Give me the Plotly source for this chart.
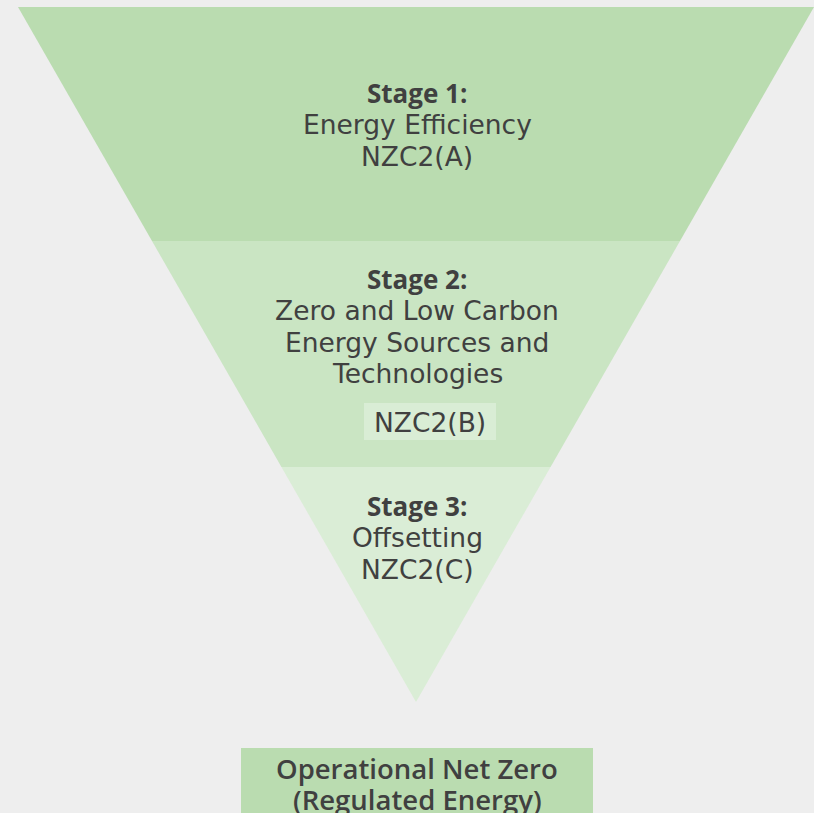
import plotly.graph_objects as go

# ---- data ----
stage_titles = ["Stage 1:", "Stage 2:", "Stage 3:"]
stage_lines = [
    ["Energy Efficiency", "NZC2(A)"],
    ["Zero and Low Carbon", "Energy Sources and", "Technologies"],
    ["Offsetting", "NZC2(C)"],
]
stage2_code = "NZC2(B)"
result_lines = ["Operational Net Zero", "(Regulated Energy)"]

# ---- layout geometry (pixel-like coordinates) ----
W, H = 814, 813
top_y, apex_y = 7, 702
cx = 416
half_top = 398
band_edges = [7, 241, 467, 702]
band_colors = ["#badcb0", "#cae5c3", "#daedd6"]
bg = "#eeeeee"
txt = "#404040"
body_font = "DejaVu Sans"
title_font = "Open Sans"
fs = 26.5
line_gap = 31.5

def halfw(y):
    return half_top * (apex_y - y) / (apex_y - top_y)

fig = go.Figure()
for i in range(3):
    y0, y1 = band_edges[i], band_edges[i + 1]
    xs = [cx - halfw(y0), cx + halfw(y0), cx + halfw(y1), cx - halfw(y1), cx - halfw(y0)]
    ys = [y0, y0, y1, y1, y0]
    fig.add_trace(go.Scatter(x=xs, y=ys, fill="toself", fillcolor=band_colors[i],
                             mode="lines", line=dict(width=0), hoverinfo="skip",
                             showlegend=False))

title_y = [93, 279, 506]
for i in range(3):
    fig.add_annotation(x=cx + 1, y=title_y[i], text="<b>" + stage_titles[i] + "</b>",
                       showarrow=False, font=dict(family=title_font, size=26, color=txt),
                       xanchor="center", yanchor="middle")
    for j, ln in enumerate(stage_lines[i]):
        fig.add_annotation(x=cx + 1, y=title_y[i] + (j + 1) * line_gap, text=ln,
                           showarrow=False, font=dict(family=body_font, size=fs, color=txt),
                           xanchor="center", yanchor="middle")

# NZC2(B) box
fig.add_shape(type="rect", x0=364, x1=496, y0=403, y1=440, fillcolor="#d9edd5",
              line=dict(width=0), layer="above")
fig.add_annotation(x=430, y=422, text=stage2_code, showarrow=False,
                   font=dict(family=body_font, size=fs, color=txt))

# bottom result box
fig.add_shape(type="rect", x0=241, x1=593, y0=748, y1=830, fillcolor="#badcb0",
              line=dict(width=0), layer="below")
for j, ln in enumerate(result_lines):
    fig.add_annotation(x=417, y=768 + j * 31, text=ln, showarrow=False,
                       font=dict(family=title_font, size=27.5, color=txt, weight=600))

fig.update_layout(
    width=W, height=H, margin=dict(l=0, r=0, t=0, b=0),
    paper_bgcolor=bg, plot_bgcolor=bg,
    xaxis=dict(range=[0, W], visible=False, fixedrange=True),
    yaxis=dict(range=[H, 0], visible=False, fixedrange=True),
    showlegend=False,
)
fig.write_html("out.html", config={"displayModeBar": False},
               post_script="document.body.style.margin='0';document.body.style.background='#eeeeee';document.body.style.overflow='hidden';")
